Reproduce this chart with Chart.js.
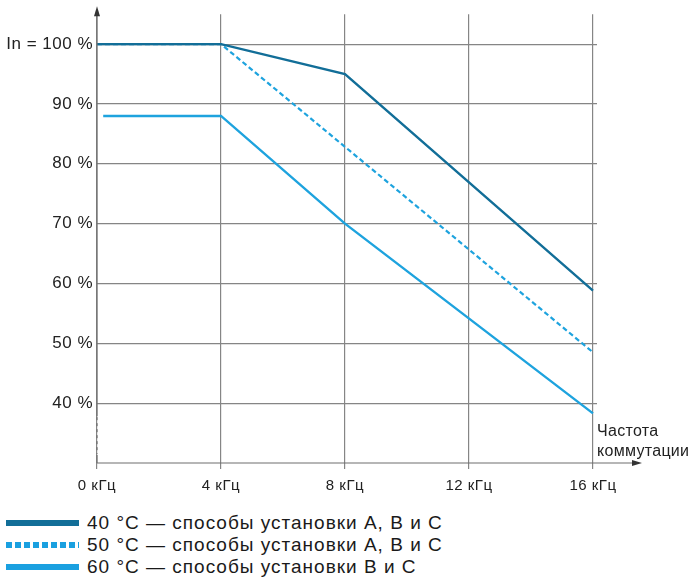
<!DOCTYPE html>
<html lang="ru">
<head>
    <meta charset="UTF-8">
    <title>Частота коммутации</title>
    <script src="https://cdn.jsdelivr.net/npm/chart.js"></script>
    <style>
        body {
            margin: 0;
            padding: 0;
            background: #ffffff;
            font-family: 'Liberation Sans', Arial, sans-serif;
        }
        .wrap {
            position: relative;
            width: 695px;
            height: 505px;
        }
        .legend {
            margin-top: 7px;
            font-size: 19px;
            letter-spacing: 1px;
            color: #1a1a1a;
        }
        .legend .item {
            display: flex;
            align-items: center;
            height: 22px;
        }
        .legend .swatch {
            width: 73px;
            height: 6px;
            margin-left: 6px;
            margin-right: 8px;
        }
    </style>
</head>
<body>

<div class="wrap">
    <canvas id="grafico"></canvas>
</div>
<div class="legend" id="leyenda"></div>

<script>
    // Datos
    const frecuencias = [0, 4, 8, 12, 16];
    const etiquetasX = ['0 кГц', '4 кГц', '8 кГц', '12 кГц', '16 кГц'];
    const ticksY = [40, 50, 60, 70, 80, 90, 100];
    const etiquetasY = ['40 %', '50 %', '60 %', '70 %', '80 %', '90 %', 'In = 100 %'];

    const serie40x = [0, 4, 8, 16];
    const serie40y = [100, 100, 95, 58.8];
    const serie50x = [0, 4, 16];
    const serie50y = [100, 100, 48.5];
    const serie60x = [0.2, 4, 8, 16];
    const serie60y = [88, 88, 70, 38.3];

    const nombres = [
        '40 °C — способы установки A, B и C',
        '50 °C — способы установки A, B и C',
        '60 °C — способы установки B и C'
    ];

    const azulOscuro = 'rgb(18,110,152)';
    const azulClaro = 'rgb(30,163,222)';
    const gris = '#858585';
    const fuente = "'Liberation Sans', Arial, sans-serif";

    function puntos(xs, ys) {
        return xs.map((x, i) => ({ x: x, y: ys[i] }));
    }

    // Ejes con flechas y corte del eje Y
    const ejes = {
        id: 'ejes',
        beforeDraw(chart) {
            chart.ctx.letterSpacing = '0.5px';
        },
        afterDraw(chart) {
            const ctx = chart.ctx;
            const a = chart.chartArea;
            const y40 = chart.scales.y.getPixelForValue(40);
            ctx.save();
            ctx.strokeStyle = '#6e6e6e';
            ctx.fillStyle = '#333';
            ctx.lineWidth = 1.2;
            // eje Y
            ctx.beginPath();
            ctx.moveTo(a.left, a.top - 2);
            ctx.lineTo(a.left, y40 + 13);
            ctx.stroke();
            ctx.setLineDash([3, 3]);
            ctx.beginPath();
            ctx.moveTo(a.left, y40 + 14);
            ctx.lineTo(a.left, a.bottom - 9);
            ctx.stroke();
            ctx.setLineDash([]);
            ctx.beginPath();
            ctx.moveTo(a.left, a.bottom - 8);
            ctx.lineTo(a.left, a.bottom);
            ctx.stroke();
            // eje X
            ctx.beginPath();
            ctx.moveTo(a.left, a.bottom);
            ctx.lineTo(636, a.bottom);
            ctx.stroke();
            // flechas
            ctx.beginPath();
            ctx.moveTo(a.left, a.top - 8);
            ctx.lineTo(a.left - 3, a.top + 2);
            ctx.lineTo(a.left + 3, a.top + 2);
            ctx.closePath();
            ctx.fill();
            ctx.beginPath();
            ctx.moveTo(642, a.bottom);
            ctx.lineTo(632, a.bottom - 3);
            ctx.lineTo(632, a.bottom + 3);
            ctx.closePath();
            ctx.fill();
            // título del eje X
            ctx.fillStyle = '#222';
            ctx.font = '16px ' + fuente;
            ctx.letterSpacing = '0.3px';
            ctx.textBaseline = 'middle';
            ctx.fillText('Частота', 597, a.bottom - 31);
            ctx.fillText('коммутации', 597, a.bottom - 11);
            ctx.restore();
        }
    };

    const ctx = document.getElementById('grafico').getContext('2d');
    new Chart(ctx, {
        type: 'line',
        data: {
            datasets: [{
                label: nombres[0],
                data: puntos(serie40x, serie40y),
                borderColor: azulOscuro,
                borderWidth: 2.4,
                pointRadius: 0,
                tension: 0
            }, {
                label: nombres[1],
                data: puntos(serie50x, serie50y),
                borderColor: azulClaro,
                borderWidth: 2.2,
                borderDash: [5, 3],
                pointRadius: 0,
                tension: 0
            }, {
                label: nombres[2],
                data: puntos(serie60x, serie60y),
                borderColor: azulClaro,
                borderWidth: 2.4,
                pointRadius: 0,
                tension: 0
            }]
        },
        options: {
            responsive: true,
            maintainAspectRatio: false,
            animation: false,
            layout: {
                padding: { left: 0, right: 98, top: 14, bottom: 0 }
            },
            plugins: {
                legend: { display: false },
                tooltip: { enabled: false }
            },
            scales: {
                x: {
                    type: 'linear',
                    min: 0,
                    max: 16.13,
                    afterBuildTicks: (s) => { s.ticks = frecuencias.map(v => ({ value: v })); },
                    afterFit: (s) => { s.height = 42; },
                    border: { display: false },
                    grid: {
                        color: gris,
                        lineWidth: 1.2,
                        tickLength: 6
                    },
                    ticks: {
                        color: '#222',
                        padding: 8,
                        maxRotation: 0,
                        font: { size: 15, family: fuente },
                        callback: (v) => etiquetasX[frecuencias.indexOf(v)]
                    }
                },
                y: {
                    min: 30,
                    max: 105,
                    afterBuildTicks: (s) => { s.ticks = ticksY.map(v => ({ value: v })); },
                    afterFit: (s) => { s.width = 97; },
                    border: { display: false },
                    grid: {
                        color: gris,
                        lineWidth: 1.2,
                        drawTicks: false
                    },
                    ticks: {
                        color: '#222',
                        padding: 4,
                        font: { size: 17, family: fuente },
                        callback: (v) => etiquetasY[ticksY.indexOf(v)]
                    }
                }
            }
        },
        plugins: [ejes]
    });

    // Leyenda
    const estilos = [
        'background:' + azulOscuro,
        'background: repeating-linear-gradient(to right, rgb(26,160,224) 0 6px, transparent 6px 9px)',
        'background: rgb(26,160,224)'
    ];
    const leyenda = document.getElementById('leyenda');
    nombres.forEach((n, i) => {
        const item = document.createElement('div');
        item.className = 'item';
        item.innerHTML = '<div class="swatch" style="' + estilos[i] + '"></div><span>' + n + '</span>';
        leyenda.appendChild(item);
    });
</script>

</body>
</html>
